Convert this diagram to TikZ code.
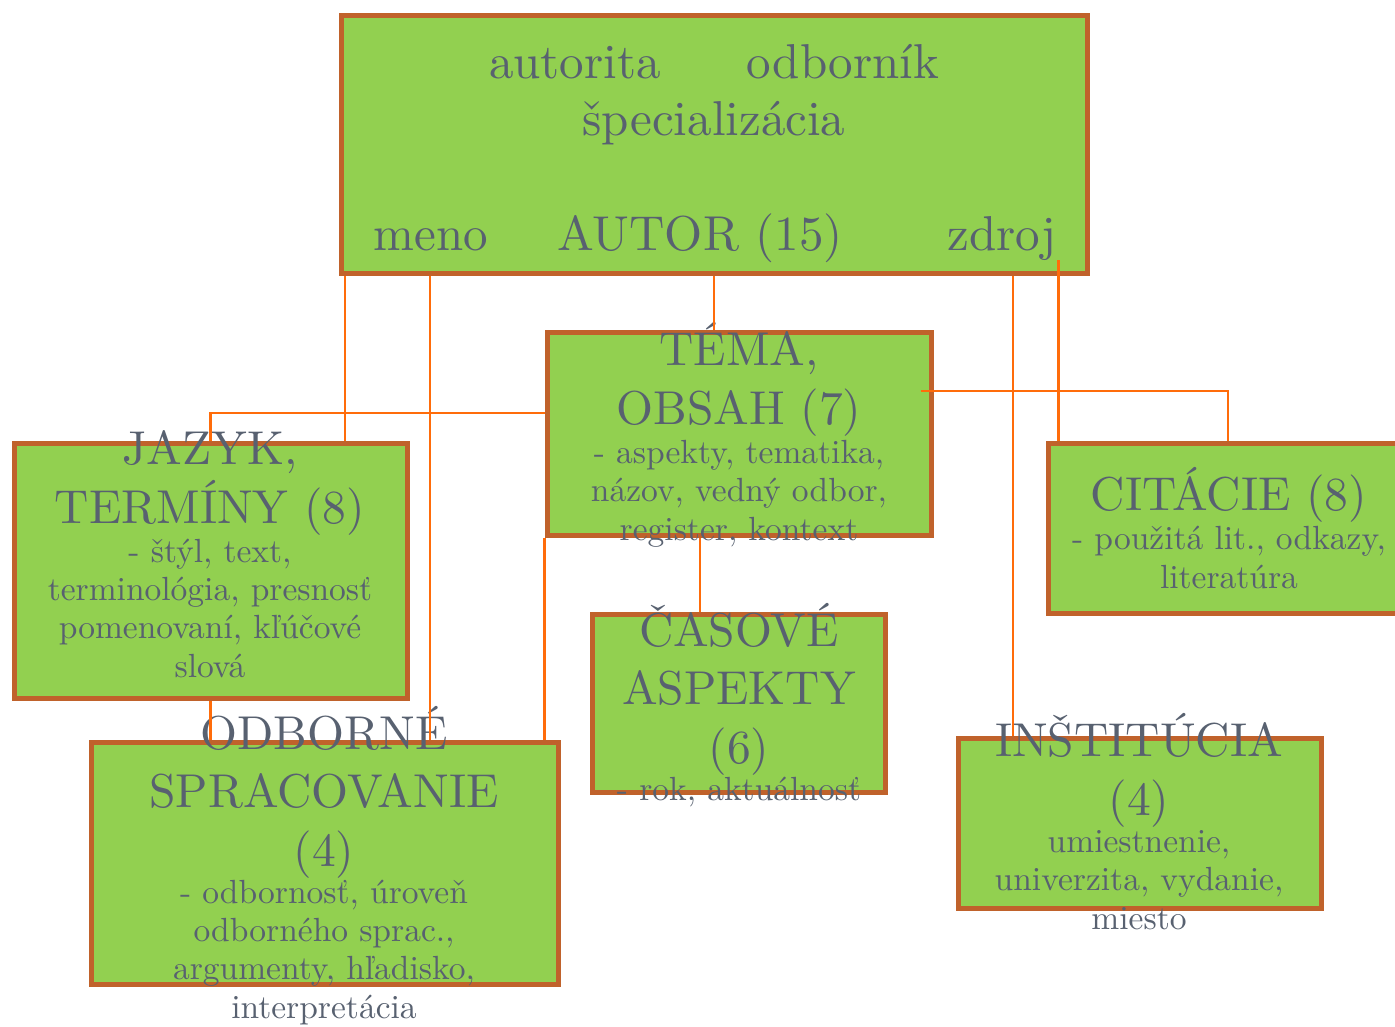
\documentclass[tikz,border=0pt]{standalone}
\usepackage{fontspec}
\setmainfont{lmroman10-regular.otf}
\definecolor{boxgreen}{HTML}{92D050}
\definecolor{boxedge}{HTML}{C0622B}
\definecolor{linkorange}{HTML}{FF6C0A}
\definecolor{textgray}{HTML}{586170}
\newcommand{\bigf}{\fontsize{47.5}{58.5}\selectfont}
\newcommand{\topf}{\fontsize{49}{58.5}\selectfont}
\newcommand{\smallf}{\fontsize{33.5}{38.3}\selectfont}
\tikzset{
    box/.style={rectangle,draw=boxedge,fill=boxgreen,line width=5pt,inner sep=0pt},
    link/.style={draw=linkorange,line width=2.5pt},
    lbl/.style={text=textgray,inner sep=0pt,anchor=base,font=\topf},
    title/.style={text=textgray,inner sep=0pt,anchor=base,font=\bigf,align=center},
    detail/.style={text=textgray,inner sep=0pt,anchor=base,font=\smallf,align=center}
}
\begin{document}
\begin{tikzpicture}[x=1pt,y=-1pt]
            \useasboundingbox (0,0) rectangle (1395,1026);
            \clip (0,0) rectangle (1395,1026);

            \node[box,minimum width=746,minimum height=258] (autor) at (714,144) {};
            \node[box,minimum width=384,minimum height=203] (tema) at (739,433.5) {};
            \node[box,minimum width=393,minimum height=255] (jazyk) at (210.5,570.5) {};
            \node[box,minimum width=360,minimum height=170] (citacie) at (1228,528) {};
            \node[box,minimum width=293,minimum height=178] (casove) at (738.5,703) {};
            \node[box,minimum width=467,minimum height=242] (odborne) at (324.5,863) {};
            \node[box,minimum width=363,minimum height=170] (institucia) at (1139.5,823) {};

            \node[lbl] (autorita) at (575,78) {autorita};
            \node[lbl] (odbornik) at (843,78) {odborník};
            \node[lbl] (specializacia) at (714,135) {špecializácia};
            \node[lbl] (meno) at (431,250) {meno};
            \node[lbl] (autortext) at (700,250) {AUTOR (15)};
            \node[lbl] (zdroj) at (1002,250) {zdroj};

            \node[title] (tematit) at (739,424) {TÉMA,\\OBSAH (7)};
            \node[detail] (temadet) at (739,540) {- aspekty, tematika,\\názov, vedný odbor,\\register, kontext};
            \node[title] (jazyktit) at (210,523) {JAZYK,\\TERMÍNY (8)};
            \node[detail] (jazykdet) at (210,677) {- štýl, text,\\terminológia, presnosť\\pomenovaní, kľúčové\\slová};
            \node[title] (citacietit) at (1229,510) {CITÁCIE (8)};
            \node[detail] (citaciedet) at (1229,588) {- použitá lit., odkazy,\\literatúra};
            \node[title] (casovetit) at (739,763) {ČASOVÉ\\ASPEKTY\\(6)};
            \node[detail] (casovedet) at (739,800) {- rok, aktuálnosť};
            \node[title] (odbornetit) at (324,866) {ODBORNÉ\\SPRACOVANIE\\(4)};
            \node[detail] (odbornedet) at (324,1018) {- odbornosť, úroveň\\odborného sprac.,\\argumenty, hľadisko,\\interpretácia};
            \node[title] (instituciatit) at (1139,815) {INŠTITÚCIA\\(4)};
            \node[detail] (instituciadet) at (1139,929) {umiestnenie,\\univerzita, vydanie,\\miesto};

            \draw[link] (autor.south -| 345,0) -- (jazyk.north -| 345,0);
            \draw[link] (autor.south -| 430,0) -- (odborne.north -| 430,0);
            \draw[link] (autor.south) -- (autor.south |- tema.north);
            \draw[link] (autor.south -| 1013,0) -- (institucia.north -| 1013,0);
            \draw[link] ([xshift=2pt]zdroj.south east) -- ([xshift=2pt]zdroj.south east |- citacie.north);
            \draw[link] ([yshift=20.5pt]tema.west) -| (jazyk.north);
            \draw[link] ([xshift=-13pt,yshift=42.5pt]tema.east) -| (citacie.north);
            \draw[link] (tema.south -| 700,0) -- (casove.north -| 700,0);
            \draw[link] (jazyk.south) -- (jazyk.south |- odborne.north);
            \draw[link] (tema.south west) -- (tema.south west |- odborne.north);
        \end{tikzpicture}
\end{document}
